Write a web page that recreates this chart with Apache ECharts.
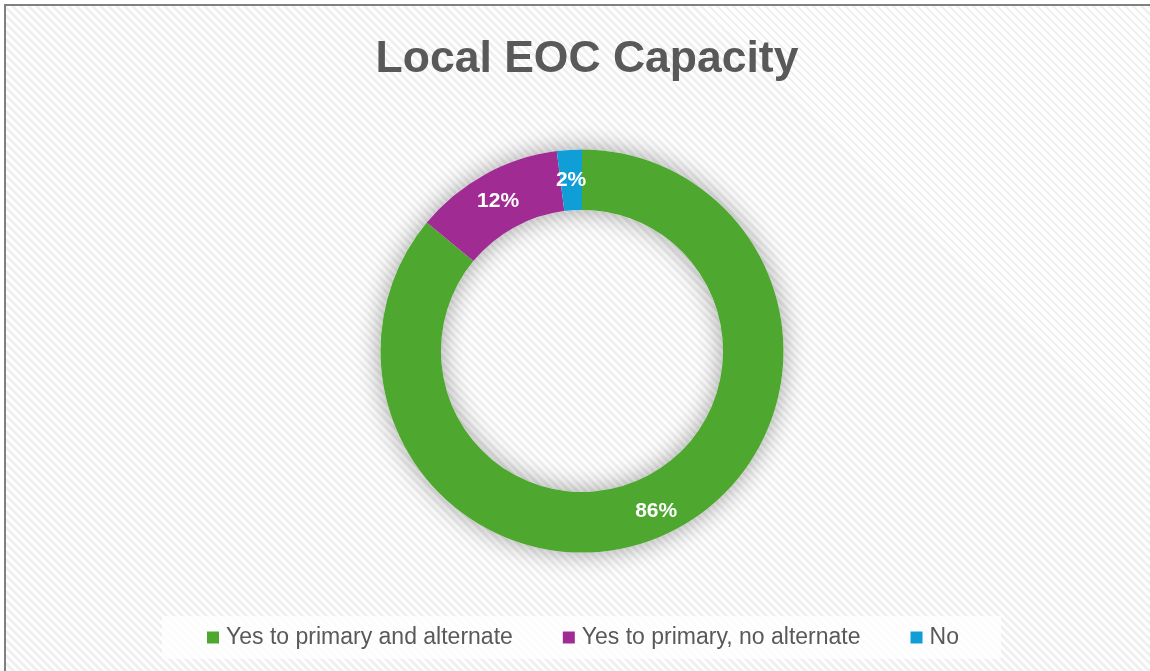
<!DOCTYPE html>
<html>
<head>
<meta charset="utf-8">
<script src="https://cdn.jsdelivr.net/npm/echarts@6/dist/echarts.min.js"></script>
<style>
  html, body { margin: 0; padding: 0; background: #ffffff; }
  body { width: 1150px; height: 671px; position: relative; overflow: hidden; }
  #frame {
    position: absolute; left: 4px; top: 4px; width: 1160px; height: 680px;
    border-left: 2px solid #808080; border-top: 2px solid #808080;
    background: repeating-linear-gradient(45deg, #ffffff 0px, #ffffff 3px, #f0f0f0 3px, #f0f0f0 5.66px);
  }
  #chart { position: absolute; left: 0; top: 0; width: 1150px; height: 671px; }
</style>
</head>
<body>
<div id="frame"></div>
<div id="chart"></div>
<script>
// Survey answers and their shares (percent)
const categories = ['Yes to primary and alternate', 'Yes to primary, no alternate', 'No'];
const shares = [86, 12, 2];
const colors = ['#4ea72e', '#a02b93', '#0f9ed5'];
const titleText = 'Local EOC Capacity';

const chart = echarts.init(document.getElementById('chart'), null, { renderer: 'canvas' });

const center = [582, 351];
const radius = [141, 201.5];

chart.setOption({
  backgroundColor: 'transparent',
  animation: false,
  title: {
    text: titleText,
    left: 582,
    textAlign: 'center',
    top: 32,
    textStyle: {
      fontFamily: 'Liberation Sans, Arial, sans-serif',
      fontSize: 44.5,
      fontWeight: 'bold',
      color: '#595959'
    }
  },
  legend: {
    data: categories,
    left: 162,
    top: 616,
    orient: 'horizontal',
    icon: 'rect',
    itemWidth: 12,
    itemHeight: 12,
    itemGap: 50,
    padding: [10, 42, 10, 45],
    backgroundColor: 'rgba(255,255,255,0.8)',
    selectedMode: false,
    textStyle: {
      fontFamily: 'Liberation Sans, Arial, sans-serif',
      fontSize: 23,
      color: '#595959',
      padding: [0, 0, 0, 2]
    }
  },
  series: [
    {
      // soft glow under the ring
      type: 'pie',
      silent: true,
      center: center,
      radius: radius,
      label: { show: false },
      labelLine: { show: false },
      itemStyle: {
        color: '#ffffff',
        shadowBlur: 26,
        shadowColor: 'rgba(0,0,0,0.36)'
      },
      data: [{ name: '', value: 1 }]
    },
    {
      type: 'pie',
      center: center,
      radius: radius,
      startAngle: 90,
      clockwise: true,
      avoidLabelOverlap: false,
      label: {
        show: true,
        position: 'inside',
        formatter: p => p.value + '%',
        fontFamily: 'Liberation Sans, Arial, sans-serif',
        fontSize: 21,
        fontWeight: 'bold',
        color: '#ffffff',
        offset: [0, 3]
      },
      labelLine: { show: false },
      itemStyle: { borderWidth: 0 },
      emphasis: { disabled: true },
      data: categories.map((c, i) => ({
        name: c,
        value: shares[i],
        itemStyle: { color: colors[i] }
      }))
    }
  ]
});
</script>
</body>
</html>
